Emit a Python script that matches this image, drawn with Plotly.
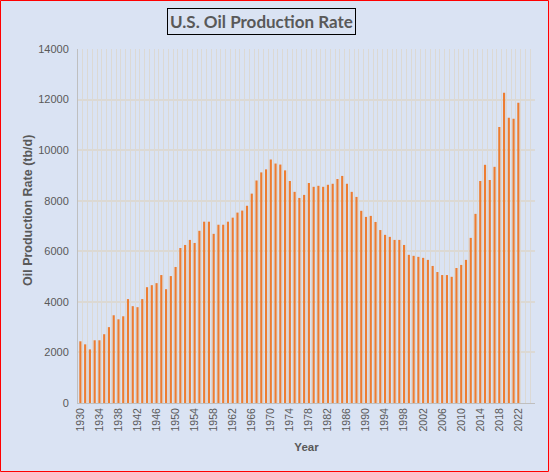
import plotly.graph_objects as go

# U.S. oil production, thousand barrels per day
years = list(range(1930, 2023))
production = [
    2440, 2320, 2120, 2480, 2480, 2720, 3000, 3470, 3310, 3430,  # 1930s
    4110, 3830, 3790, 4110, 4580, 4660, 4740, 5060, 4500, 5020,  # 1940s
    5380, 6130, 6250, 6450, 6330, 6810, 7170, 7170, 6690, 7050,  # 1950s
    7050, 7170, 7330, 7530, 7610, 7800, 8280, 8800, 9120, 9240,  # 1960s
    9630, 9470, 9430, 9200, 8780, 8350, 8110, 8230, 8700, 8550,  # 1970s
    8590, 8550, 8630, 8670, 8860, 8980, 8670, 8350, 8150, 7600,  # 1980s
    7360, 7400, 7160, 6840, 6650, 6570, 6450, 6450, 6250, 5860,  # 1990s
    5820, 5780, 5740, 5660, 5420, 5180, 5060, 5060, 4990, 5340,  # 2000s
    5460, 5660, 6530, 7480, 8780, 9420, 8820, 9340, 10920, 12270,  # 2010s
    11280, 11240, 11870,  # 2020s
]
tick_years = list(range(1930, 2023, 4))

bg = "#dae3f3"
grid = "#dcd9d4"
text_grey = "#595959"

fig = go.Figure()
fig.add_trace(go.Bar(x=years, y=production, width=0.45,
                     marker=dict(color="#ed7d31", line_width=0)))

fig.update_layout(
    width=549, height=472,
    margin=dict(l=78, r=14, t=49, b=69),
    paper_bgcolor=bg, plot_bgcolor=bg,
    font=dict(family="Liberation Sans", size=11, color=text_grey),
    showlegend=False,
)

fig.update_xaxes(
    range=[1929.5, 2025.5],
    tickmode="array", tickvals=tick_years, ticktext=[str(y) for y in tick_years],
    tickangle=-90, tickfont=dict(size=10.5),
    showgrid=False, zeroline=False,
    minor=dict(tick0=1929.5, dtick=1, showgrid=True, gridcolor=grid, gridwidth=1),
    showline=True, linecolor="#bfbfbf", linewidth=1,
    title=dict(text="<b>Year</b>", font=dict(size=11.5, color=text_grey), standoff=12),
    automargin=False,
)
fig.update_yaxes(
    range=[0, 14000], dtick=2000, tickformat="d",
    showgrid=True, gridcolor=grid, gridwidth=1.5, zeroline=False,
    showline=True, linecolor="#bfbfbf", linewidth=1,
    ticks="outside", ticklen=6, tickcolor=bg,
    automargin=False,
)

# y axis title, sitting a little above the middle as in the original
fig.add_annotation(
    text="<b>Oil Production Rate (tb/d)</b>", textangle=-90,
    xref="paper", yref="paper", x=(28 - 78) / 457, y=(403 - 211) / 354,
    xanchor="center", yanchor="middle", showarrow=False,
    font=dict(size=12.5, color=text_grey),
)

# boxed chart title
fig.add_annotation(
    text="<b>U.S. Oil Production Rate</b>",
    xref="paper", yref="paper", x=(261 - 78) / 457, y=1 + (49 - 21.5) / 354,
    xanchor="center", yanchor="middle", showarrow=False,
    font=dict(family="Lato", size=17, color=text_grey),
    bordercolor="black", borderwidth=1, borderpad=2,
)

# red outline round the whole picture
fig.add_shape(
    type="rect", xref="paper", yref="paper",
    x0=(0.5 - 78) / 457, x1=(548.5 - 78) / 457,
    y0=(403 - 471.5) / 354, y1=(403 - 0.5) / 354,
    line=dict(color="red", width=1),
)

fig.write_html("out.html", config={"displayModeBar": False},
               post_script="document.body.style.margin='0';")
